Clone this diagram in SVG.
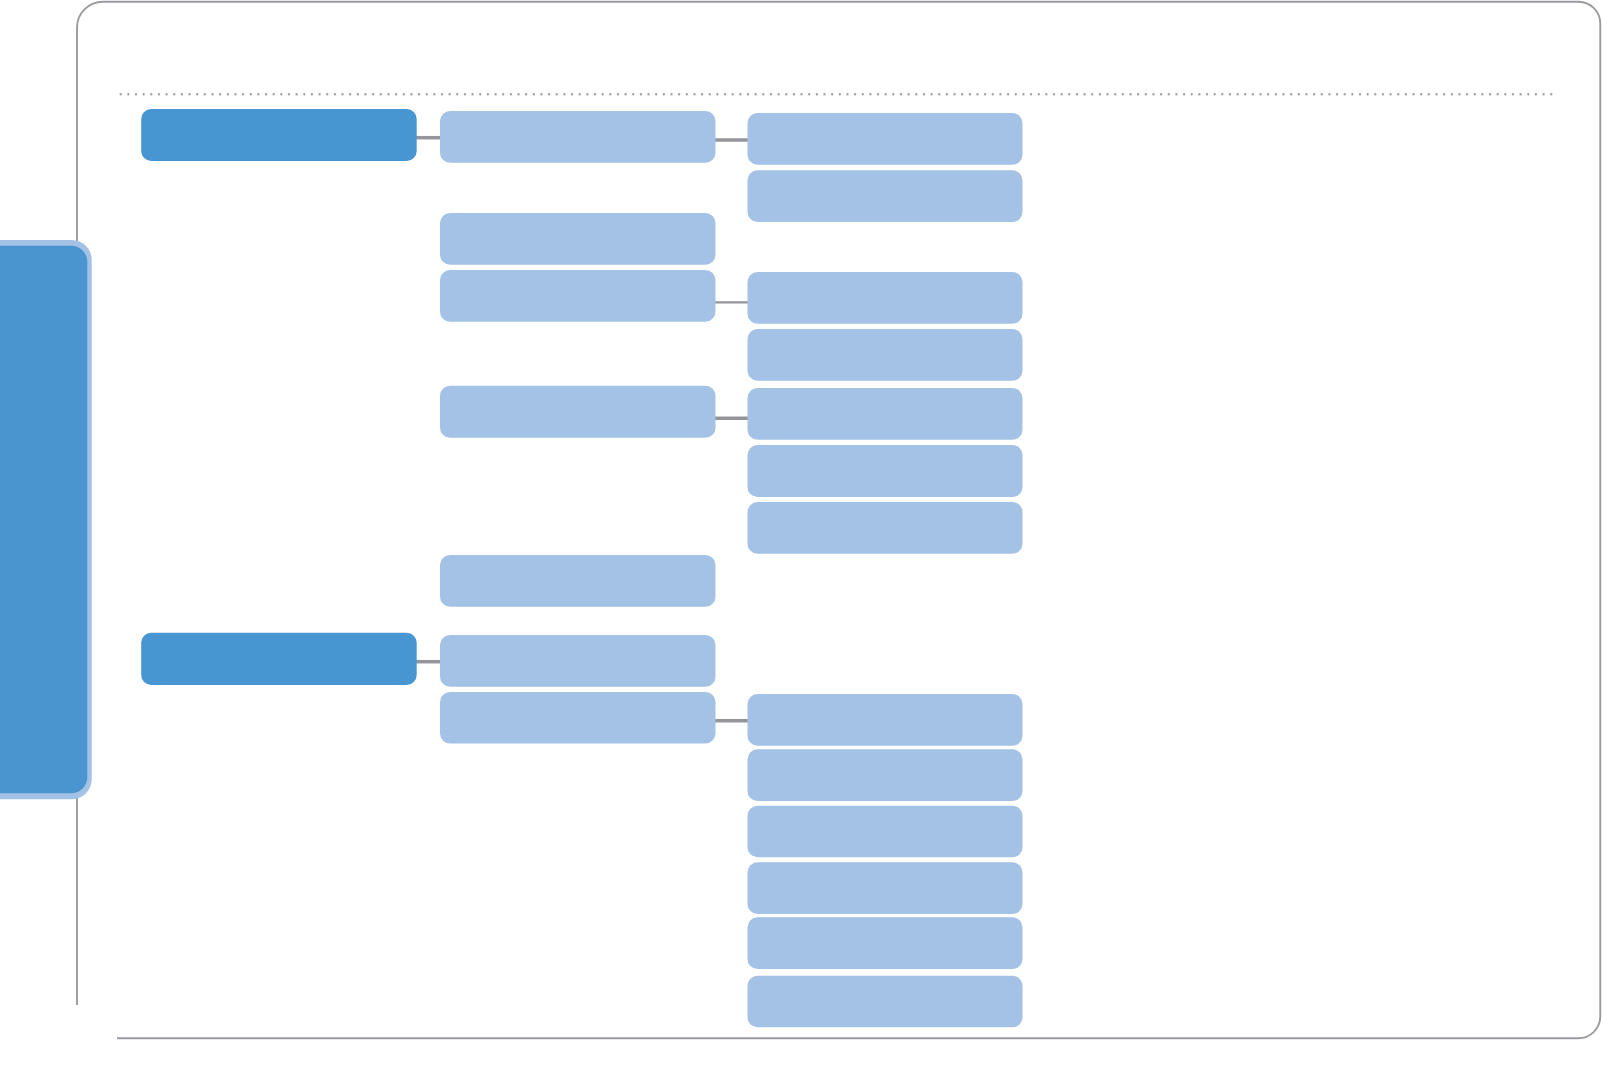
<svg xmlns="http://www.w3.org/2000/svg" width="1602" height="1074" viewBox="0 0 1602 1074">
  <style>
    .frame { fill: none; stroke: #999b9e; stroke-width: 1.9; }
    .dots { fill: none; stroke: #a0a2a5; stroke-width: 2.4; stroke-linecap: round; stroke-dasharray: 0 7.65; }
    .l1 { fill: #4795d1; }
    .l2 { fill: #a3c2e6; }
    .l3 { fill: #a3c2e6; }
    .conn { stroke: #939598; stroke-width: 3.5; fill: none; }
    .conn-thin { stroke: #939598; stroke-width: 2.2; fill: none; }
  </style>
  <rect width="1602" height="1074" fill="#ffffff"/>
  <path class="frame" d="M117,1038.3 H1578 A22,22 0 0 0 1600.3,1016 V24 A22,22 0 0 0 1578,1.7 H103 A26,26 0 0 0 77,28 V1005"/>
  <line class="dots" x1="120.7" y1="94.3" x2="1553" y2="94.3"/>

  <g id="sidebar">
    <rect x="-30" y="240" width="121.7" height="559.3" rx="20" fill="#a3c2e6"/>
    <rect x="-30" y="245.7" width="117.3" height="547.6" rx="16" fill="#4a94d0"/>
  </g>

  <g id="connectors">
    <line class="conn" x1="416" y1="137.7" x2="441" y2="137.7"/>
    <line class="conn" x1="715" y1="140" x2="748" y2="140"/>
    <line class="conn-thin" x1="715" y1="302.3" x2="748" y2="302.3"/>
    <line class="conn" x1="715" y1="418.3" x2="748" y2="418.3"/>
    <line class="conn" x1="416" y1="661.7" x2="441" y2="661.7"/>
    <line class="conn" x1="715" y1="720.7" x2="748" y2="720.7"/>
  </g>

  <g id="n1"><rect class="l1" x="141.2" y="109" width="275.5" height="52" rx="10"/></g>
  <g id="n2"><rect class="l1" x="141.2" y="632.7" width="275.5" height="52.3" rx="10"/></g>

  <g id="n1a"><rect class="l2" x="440" y="111" width="275.5" height="51.7" rx="10"/></g>
  <g id="n1b"><rect class="l2" x="440" y="213" width="275.5" height="51.7" rx="10"/></g>
  <g id="n1c"><rect class="l2" x="440" y="270" width="275.5" height="51.7" rx="10"/></g>
  <g id="n1d"><rect class="l2" x="440" y="385.7" width="275.5" height="52" rx="10"/></g>
  <g id="n1e"><rect class="l2" x="440" y="555" width="275.5" height="51.7" rx="10"/></g>
  <g id="n2a"><rect class="l2" x="440" y="635" width="275.5" height="51.7" rx="10"/></g>
  <g id="n2b"><rect class="l2" x="440" y="692" width="275.5" height="51.5" rx="10"/></g>

  <g id="n1a1"><rect class="l3" x="747.5" y="113" width="275" height="51.7" rx="10"/></g>
  <g id="n1a2"><rect class="l3" x="747.5" y="170.3" width="275" height="51.7" rx="10"/></g>
  <g id="n1c1"><rect class="l3" x="747.5" y="272" width="275" height="51.7" rx="10"/></g>
  <g id="n1c2"><rect class="l3" x="747.5" y="329" width="275" height="51.7" rx="10"/></g>
  <g id="n1d1"><rect class="l3" x="747.5" y="388" width="275" height="51.7" rx="10"/></g>
  <g id="n1d2"><rect class="l3" x="747.5" y="445" width="275" height="52" rx="10"/></g>
  <g id="n1d3"><rect class="l3" x="747.5" y="502" width="275" height="51.7" rx="10"/></g>
  <g id="n2b1"><rect class="l3" x="747.5" y="694" width="275" height="51.7" rx="10"/></g>
  <g id="n2b2"><rect class="l3" x="747.5" y="749.3" width="275" height="51.7" rx="10"/></g>
  <g id="n2b3"><rect class="l3" x="747.5" y="805.7" width="275" height="51.5" rx="10"/></g>
  <g id="n2b4"><rect class="l3" x="747.5" y="862.3" width="275" height="51.7" rx="10"/></g>
  <g id="n2b5"><rect class="l3" x="747.5" y="917.3" width="275" height="51.7" rx="10"/></g>
  <g id="n2b6"><rect class="l3" x="747.5" y="975.7" width="275" height="51.6" rx="10"/></g>
</svg>
